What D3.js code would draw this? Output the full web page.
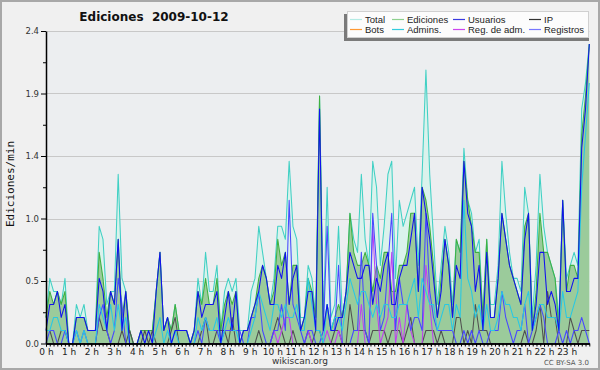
<!DOCTYPE html>
<html><head><meta charset="utf-8">
<script src="https://cdn.jsdelivr.net/npm/d3@7"></script>
<style>body{margin:0;background:#f0f0f0}svg{display:block}</style>
</head><body><svg id="c" width="600" height="370"></svg>
<script>
const hourLabels = ["0 h","1 h","2 h","3 h","4 h","5 h","6 h","7 h","8 h","9 h","10 h","11 h","12 h","13 h","14 h","15 h","16 h","17 h","18 h","19 h","20 h","21 h","22 h","23 h"];
const yTickValues = [0, 0.48, 0.96, 1.44, 1.92, 2.4];
const yTickLabels = ["0.0","0.5","1.0","1.4","1.9","2.4"];
const legendNames = ["Total","Ediciones","Usuarios","IP","Bots","Admins.","Reg. de adm.","Registros"];

const total = [.2,.5,.4,.4,.3,.5, 0,0,.3,.2,.3,.1, .1,.1,.9,.8,.3,.4, .4,1.3,.5,.4,.1,0, 0,.1,.1,.1,.1,.4, .7,.1,.2,.1,.3,.1,
 .1,.1,0,.1,.5,.3, .7,.4,.4,.6,.1,.4, .5,.4,.5,.1,.1,.1, .4,.5,.9,.7,.5,.3, .5,.9,.9,.8,1.4,.9, .8,.2,.2,.6,.5,.2,
 1.9,.2,1.2,.2,.3,.9, .2,.4,1.0,.8,.7,1.3, .8,.6,1.4,1.2,.6,.9, 1.3,1.4,.5,1.1,.9,1.0, 1.1,1.2,.6,1.3,2.1,1.3, .8,.3,.6,.9,.7,.3,
 .8,.7,1.5,1.1,1.0,.7, .8,.2,.8,.3,.3,.6, 1.4,1.0,.7,.5,.5,.4, 1.2,1.0,.2,.6,1.3,.9, .7,.6,.5,.2,1.1,.5, .6,.7,.6,1.8,2.0,2.3];
const ediciones = [.2,.4,.3,.4,.3,.4, 0,0,.2,.2,.2,.1, .1,.1,.7,.5,.2,.4, .3,.8,.2,.4,.1,0, 0,.1,.1,.1,.1,.4, .7,.1,.2,.1,.3,.1,
 .1,.1,0,.1,.4,.3, .5,.3,.3,.5,.1,.3, .4,.3,.4,0,.1,.1, .2,.3,.5,.6,.5,.3, .4,.8,.6,.7,.3,.6, .6,.1,.2,.5,.4,.2,
 1.9,.1,.3,.1,.2,.3, .2,.4,1.0,.7,.6,.6, .7,.6,.4,.6,.5,.7, .7,.4,.4,.6,.6,.7, 1.0,1.0,.4,1.2,1.1,.9, .6,.2,.5,.8,.6,.2,
 .8,.7,1.4,1.1,.9,.7, .7,.2,.8,.2,.2,.5, 1.0,.8,.6,.5,.4,.3, .9,1.0,.1,.4,1.0,.7, .7,.6,.5,.1,1.1,.4, .6,.6,.5,1.6,1.9,2.3];
const usuarios = [.1,.3,.3,.4,.2,.3, 0,0,.2,.2,.2,.1, .1,.1,.5,.4,.1,.4, .3,.8,.1,.4,0,0, 0,.1,0,.1,0,.4, .7,.1,.2,0,.1,.1,
 .1,.1,0,.1,.4,.2, .3,.3,.3,.4,0,.2, .4,.1,.4,0,.1,.1, .2,.3,.4,.6,.5,.3, .3,.6,.5,.7,.3,.5, .6,.1,.2,.4,.4,.1,
 1.8,.1,.3,.1,.1,.2, .2,.4,.7,.6,.5,.5, .6,.6,.3,.5,.4,.6, .7,.3,.3,.5,.6,.6, .8,1.0,.4,1.2,1.0,.8, .5,.2,.4,.8,.6,.2,
 .6,.5,1.4,1.0,.9,.4, .6,.1,.7,.2,.2,.5, 1.0,.8,.6,.5,.4,.3, .8,1.0,.1,.3,.7,.7, .3,.4,.3,.1,1.1,.4, .4,.5,.5,1.5,1.8,2.3];
const ip = [.1,.1,0,0,.1,.1, 0,0,0,0,0,0, 0,0,.2,.1,.1,0, 0,0,.1,0,.1,0, 0,0,.1,0,.1,0, 0,0,0,.1,.2,0,
 0,0,0,0,0,.1, .2,0,0,.1,.1,.1, 0,.2,0,0,0,0, 0,0,.1,0,0,0, .1,.2,.1,0,0,.1, 0,0,0,.1,0,.1,
 .1,0,0,0,.1,.1, 0,0,.3,.1,.1,.1, .1,0,.1,.1,.1,.1, 0,.1,.1,.1,0,.1, .2,0,0,0,.1,.1, .1,0,.1,0,0,0,
 .2,.2,0,.1,0,.3, .1,.1,.1,0,0,0, 0,0,0,0,0,0, .1,0,0,.1,.3,0, .4,.2,.2,0,0,0, .2,.1,0,.1,.1,.1];
const bots = [0,0,0,0,0,0, 0,0,0,0,0,0, 0,0,0,0,0,0, 0,0,0,0,0,0, 0,0,0,0,0,0, 0,0,0,0,0,0,
 0,0,0,0,0,0, 0,0,0,0,0,0, 0,0,0,0,0,0, 0,0,0,0,0,0, 0,0,0,0,0,0, 0,0,0,0,0,0,
 0,0,0,0,0,0, 0,0,0,0,0,0, 0,0,0,0,0,0, 0,0,0,0,0,0, 0,0,0,0,0,0, 0,0,0,0,0,0,
 0,0,0,0,0,0, 0,0,0,0,0,0, 0,0,0,0,0,0, 0,0,0,0,0,0, 0,0,0,0,0,0, 0,0,0,0,0,0];
const admins = [.1,.1,.2,.2,.1,.1, 0,0,.1,0,.1,0, 0,0,.3,.2,.1,.3, .1,.3,.1,.2,0,0, 0,0,0,0,0,.1, .2,0,.1,0,.1,0,
 0,0,0,0,.2,.1, .2,.1,.1,.2,0,.1, .2,.1,.1,0,0,0, .1,.2,.4,.3,.2,.1, .3,.3,.2,.3,.2,.2, .3,.1,.1,.5,.3,.1,
 .1,0,.3,.1,.2,.2, .1,.3,.5,.4,.3,.4, .4,.3,.2,.3,.2,.3, .3,.2,.2,.3,.3,.3, .4,.5,.2,.5,.4,.3, .3,.1,.2,.3,.3,.1,
 .3,.2,1.1,.5,.4,.2, .3,.1,.3,.1,.1,.2, .4,.3,.3,.2,.2,.1, .3,.4,.1,.2,.3,.3, .2,.2,.2,.1,.4,.2, .2,.3,.4,1.2,1.6,2.0];
const regAdm = [0,0,0,0,0,0, 0,0,0,0,0,0, 0,0,0,0,0,0, 0,0,0,0,0,0, 0,0,0,0,0,0, 0,0,0,0,0,0,
 0,0,0,0,0,0, 0,0,0,0,0,0, 0,0,0,0,0,0, 0,0,0,0,0,0, .1,0,.1,.2,.2,0, 0,0,0,.1,0,0,
 0,0,.1,0,0,.1, 0,0,0,0,0,.3, 0,0,.9,.3,0,.1, .2,.7,0,.2,0,.3, .1,0,0,0,.6,.3, 0,0,0,0,0,0,
 0,0,0,0,0,0, 0,0,0,0,0,0, 0,0,0,0,0,0, 0,0,0,0,0,0, 0,0,0,0,0,0, 0,0,0,0,0,0];
const registros = [0,.1,.1,0,0,.1, 0,0,.1,0,.1,0, 0,0,.2,.3,.1,0, .1,.5,.3,0,0,0, 0,0,0,0,0,0, 0,0,0,0,0,0,
 0,0,0,0,.1,0, .2,.1,.1,.1,0,.1, .1,.1,.1,.1,0,0, .2,.2,.4,.1,0,0, .1,.1,.3,.1,1.1,.3, .2,.1,0,.1,.1,0,
 0,.1,.9,.1,.1,.6, 0,0,0,.1,.1,.7, .1,0,1.0,.6,.1,.2, .6,1.0,.1,.5,.3,.3, .1,.2,.2,.1,1.0,.4, .2,.1,.1,.1,.1,.1,
 0,0,.1,0,.1,0, .1,0,0,.1,.1,.1, .4,.2,.1,0,.1,.1, .3,0,.1,.2,.3,.2, 0,0,0,.1,0,.1, 0,.1,.1,.2,.1,0];

const svg = d3.select("#c");
const L = 46, R = 589.3, T = 31, B = 343.5;
const x = d3.scaleLinear().domain([0, total.length - 1]).range([L, R]);
const xh = d3.scaleLinear().domain([0, 24]).range([L, R]);
const y = d3.scaleLinear().domain([0, 2.4]).range([B, T]);

svg.append("rect").attr("x",1).attr("y",1).attr("width",598).attr("height",368)
  .attr("fill","#f0f0f0").attr("stroke","#a8a8a8").attr("stroke-width",2);
svg.append("rect").attr("x",L).attr("y",T).attr("width",R-L).attr("height",B-T).attr("fill","#eceef0");

// grid
svg.append("g").selectAll("line").data(yTickValues.slice(1)).join("line")
  .attr("x1",L).attr("x2",R).attr("y1",d=>Math.round(y(d))+0.5).attr("y2",d=>Math.round(y(d))+0.5)
  .attr("stroke","#c8c8c8").attr("stroke-width",1);

const idx = d3.range(total.length);
const area = arr => d3.area().x(i=>x(i)).y0(y(0)).y1(i=>y(arr[i]));
const line = arr => d3.line().x(i=>x(i)).y(i=>y(arr[i]));

svg.append("path").datum(idx).attr("d",area(total)).attr("fill","#daf2ec");
svg.append("path").datum(idx).attr("d",area(ediciones)).attr("fill","#9bcb9b");

const series = [
  [bots,"#ff9933"],
  [total,"#40d0c4"],
  [ediciones,"#40b040"],
  [ip,"#505050"],
  [regAdm,"#c040f0"],
  [registros,"#4848ff"],
  [admins,"#28c8e4"],
  [usuarios,"#1010f0"]
];
series.forEach(([arr,col])=>{
  svg.append("path").datum(idx).attr("d",line(arr)).attr("fill","none")
    .attr("stroke",col).attr("stroke-width",1.05).attr("stroke-linejoin","round");
});

// y axis
const yAxis = svg.append("g").attr("transform",`translate(${L},0)`)
  .call(d3.axisLeft(y).tickValues(yTickValues).tickSize(5).tickSizeOuter(0).tickPadding(2)
    .tickFormat((d,i)=>yTickLabels[i]));
const minorY = d3.range(0, yTickValues.length-1).map(i=>(yTickValues[i]+yTickValues[i+1])/2);
svg.append("g").attr("transform",`translate(${L},0)`)
  .call(d3.axisLeft(y).tickValues(minorY).tickSize(3).tickSizeOuter(0).tickFormat(""))
  .select(".domain").remove();
yAxis.selectAll("text").attr("font-family","DejaVu Sans").attr("font-size",8.5).attr("fill","#333");

// x axis
svg.append("g").attr("transform",`translate(0,${B})`)
  .call(d3.axisBottom(xh).tickValues(d3.range(0,24.001,1/6)).tickSize(3).tickSizeOuter(0).tickFormat(""));
svg.append("g").attr("transform",`translate(0,${B})`)
  .call(d3.axisBottom(xh).tickValues(d3.range(0,24)).tickSize(3).tickSizeOuter(0).tickPadding(2)
    .tickFormat((d,i)=>hourLabels[i]))
  .call(g=>g.selectAll("text").attr("font-family","DejaVu Sans").attr("font-size",9).attr("fill","#222"));
svg.selectAll(".domain").attr("stroke","#000").attr("stroke-width",1.5);
svg.selectAll(".tick line").attr("stroke","#000");

// texts
svg.append("text").attr("x",154).attr("y",21).attr("text-anchor","middle")
  .attr("font-family","DejaVu Sans").attr("font-weight","bold").attr("font-size",12).attr("fill","#111")
  .attr("xml:space","preserve").text("Ediciones  2009-10-12");
svg.append("text").attr("transform","translate(14,184) rotate(-90)").attr("text-anchor","middle")
  .attr("font-family","DejaVu Sans Mono").attr("font-size",11).attr("fill","#111").text("Ediciones/min");
svg.append("text").attr("x",300).attr("y",364).attr("text-anchor","middle")
  .attr("font-family","DejaVu Sans").attr("font-size",9).attr("fill","#333").text("wikiscan.org");
svg.append("text").attr("x",589).attr("y",365).attr("text-anchor","end")
  .attr("font-family","DejaVu Sans").attr("font-size",7).attr("fill","#555").text("CC BY-SA 3.0");

// legend
const legColors = ["#b4ebe4","#8fd18f","#3a3ae0","#333","#ff9933","#33ccdd","#cc44ee","#7777ff"];
const lg = svg.append("g");
lg.append("rect").attr("x",344).attr("y",14).attr("width",245).attr("height",27).attr("fill","#7a7a7a");
lg.append("rect").attr("x",347.5).attr("y",11.5).attr("width",241).attr("height",26).attr("fill","#fcfcfc").attr("stroke","#d0d0d0");
const colX = [350, 392, 453, 529];
legendNames.forEach((n,i)=>{
  const cx = colX[i%4], cy = i<4 ? 19.5 : 29.5;
  lg.append("line").attr("x1",cx).attr("x2",cx+12).attr("y1",cy).attr("y2",cy).attr("stroke",legColors[i]).attr("stroke-width",1.2);
  lg.append("text").attr("x",cx+15).attr("y",cy+3.5).attr("font-family","Liberation Sans").attr("font-size",9.5)
    .attr("fill","#222").text(n);
});
</script></body></html>
